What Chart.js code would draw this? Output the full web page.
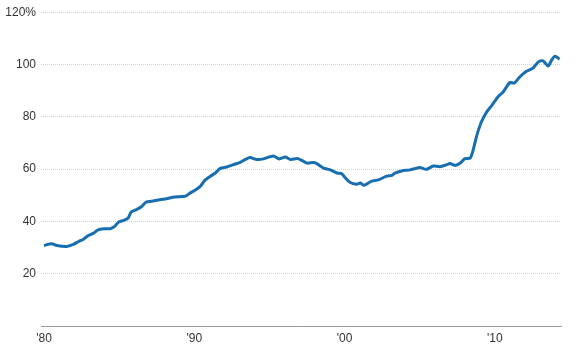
<!DOCTYPE html>
<html>
<head>
<meta charset="utf-8">
<script src="https://cdn.jsdelivr.net/npm/chart.js@4/dist/chart.umd.min.js"></script>
<style>
  body { margin: 0; background: #fff; }
</style>
</head>
<body>
<canvas id="line-chart" width="578" height="346"></canvas>
<script>
// values (year, percent)
const years = [1980.0, 1980.5, 1980.85, 1981.5, 1981.95, 1982.3, 1982.6, 1982.95, 1983.3, 1983.6, 1983.95, 1984.4, 1984.7, 1984.95, 1985.3, 1985.6, 1985.8, 1986.15, 1986.5, 1986.8, 1987.15, 1987.7, 1988.15, 1988.7, 1989.4, 1989.7, 1990.05, 1990.4, 1990.7, 1991.05, 1991.4, 1991.7, 1992.15, 1992.6, 1993.05, 1993.4, 1993.7, 1994.15, 1994.6, 1995.25, 1995.65, 1996.05, 1996.4, 1996.9, 1997.5, 1997.9, 1998.15, 1998.6, 1999.0, 1999.5, 1999.8, 2000.0, 2000.35, 2000.8, 2001.05, 2001.3, 2001.8, 2002.25, 2002.8, 2003.15, 2003.35, 2003.8, 2004.35, 2004.7, 2005.0, 2005.45, 2005.9, 2006.35, 2006.8, 2007.0, 2007.35, 2007.7, 2008.0, 2008.35, 2008.55, 2008.8, 2009.1, 2009.45, 2009.8, 2010.2, 2010.55, 2011.0, 2011.3, 2011.65, 2012.1, 2012.55, 2012.9, 2013.2, 2013.55, 2013.75, 2014.0, 2014.3];
const values = [30.8, 31.5, 30.8, 30.4, 31.2, 32.3, 33.1, 34.6, 35.5, 36.8, 37.2, 37.2, 38.1, 39.7, 40.4, 41.3, 43.6, 44.5, 45.7, 47.4, 47.7, 48.3, 48.7, 49.3, 49.6, 50.8, 51.9, 53.4, 55.7, 57.2, 58.5, 60.2, 60.8, 61.7, 62.6, 63.7, 64.4, 63.7, 63.9, 65.0, 63.9, 64.6, 63.7, 64.0, 62.3, 62.5, 62.1, 60.4, 59.8, 58.5, 58.3, 57.0, 55.0, 54.2, 54.7, 53.8, 55.4, 55.9, 57.3, 57.6, 58.5, 59.3, 59.7, 60.2, 60.6, 59.9, 61.2, 60.9, 61.7, 62.1, 61.4, 62.3, 64.0, 64.2, 67.2, 72.9, 78.0, 81.8, 84.4, 87.6, 89.5, 93.1, 92.9, 95.2, 97.4, 98.7, 101.0, 101.4, 99.4, 101.4, 103.2, 102.0];
const xTicks = [1980, 1990, 2000, 2010];
const yTicks = [0, 20, 40, 60, 80, 100, 120];

const font = { family: "'Liberation Sans', Arial, sans-serif", size: 12 };

new Chart(document.getElementById("line-chart"), {
  type: 'line',
  data: {
    datasets: [{
      data: years.map((y, i) => ({ x: y, y: values[i] })),
      borderColor: "#176eb0",
      borderWidth: 3,
      pointRadius: 0,
      tension: 0.25,
      fill: false
    }]
  },
  options: {
    responsive: false,
    animation: false,
    layout: { padding: { top: 12, right: 17, left: 0, bottom: 0 } },
    plugins: { legend: { display: false }, tooltip: { enabled: false } },
    scales: {
      x: {
        type: 'linear',
        min: 1979.8,
        max: 2014.4,
        afterBuildTicks: s => { s.ticks = xTicks.map(v => ({ value: v })) },
        afterFit: s => { s.height = 20 },
        grid: { display: false, drawTicks: false },
        border: { display: true, color: '#999', width: 1 },
        ticks: {
          color: '#333', font: font, padding: 5, maxRotation: 0,
          callback: v => "'" + String(v).slice(2)
        }
      },
      y: {
        min: 0,
        max: 120,
        afterBuildTicks: s => { s.ticks = yTicks.map(v => ({ value: v })) },
        afterFit: s => { s.width = 41 },
        grid: {
          drawTicks: false,
          color: c => c.tick && c.tick.value === 0 ? 'rgba(0,0,0,0)' : '#d2d2d2',
          lineWidth: 1
        },
        border: { display: false, dash: [1, 1] },
        ticks: {
          color: '#333', font: font, padding: 5,
          callback: v => v === 0 ? '' : (v === 120 ? '120%' : v)
        }
      }
    }
  }
});
</script>
</body>
</html>
